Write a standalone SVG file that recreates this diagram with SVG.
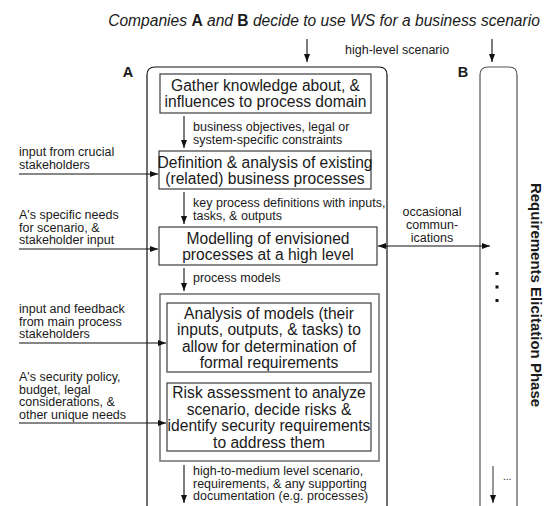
<svg xmlns="http://www.w3.org/2000/svg" width="548" height="506" viewBox="0 0 548 506">
<defs>
<marker id="ah" viewBox="0 0 8 6" refX="8" refY="3" markerWidth="8" markerHeight="6" markerUnits="userSpaceOnUse" orient="auto-start-reverse">
<path d="M0,0 L8,3 L0,6 Z" fill="#111"/>
</marker>
<style>
text{font-family:"Liberation Sans",Arial,Helvetica,sans-serif;fill:#1a1a1a}
.bx{font-size:15.6px;text-anchor:middle}
.lb{font-size:12.5px}
.box{fill:#fff;stroke:#3c3c3c;stroke-width:1.2}
.grp{fill:none;stroke:#777;stroke-width:1.6}
.cont{fill:none;stroke:#111;stroke-width:1.2}
.contb{fill:none;stroke:#555;stroke-width:1.2}
.c{fill:none;stroke:#111;stroke-width:1.1;marker-end:url(#ah)}
</style>
</defs>
<rect width="548" height="506" fill="#fff"/>

<text x="324" y="26" font-size="15.6" font-style="italic" text-anchor="middle">Companies <tspan font-weight="bold" font-style="normal">A</tspan> and <tspan font-weight="bold" font-style="normal">B</tspan> decide to use WS for a business scenario</text>
<text x="345" y="54" class="lb">high-level scenario</text>

<g id="containerA">
<path class="cont" d="M147,506 L147,75 Q147,67 155,67 L379,67 Q387,67 387,75 L387,506"/>
<text x="128" y="77" font-size="14.5" font-weight="bold" text-anchor="middle">A</text>
</g>
<g id="containerB">
<path class="contb" d="M480,506 L480,75 Q480,67 488,67 L509,67 Q517,67 517,75 L517,506"/>
<text x="463" y="77" font-size="14.5" font-weight="bold" text-anchor="middle">B</text>
<rect x="495.5" y="272" width="3" height="3" fill="#111"/>
<rect x="495.5" y="285.5" width="3" height="3" fill="#111"/>
<rect x="495.5" y="299" width="3" height="3" fill="#111"/>
<text x="503" y="480" font-size="10">...</text>
</g>
<text transform="translate(531,295) rotate(90)" font-size="15" font-weight="bold" text-anchor="middle">Requirements Elicitation Phase</text>

<g id="n1">
<rect class="box" x="160" y="74" width="211" height="39"/>
<text class="bx" x="265.5" y="90.5">Gather knowledge about, &amp;</text>
<text class="bx" x="265.5" y="107">influences to process domain</text>
</g>
<g id="n2">
<rect class="box" x="159" y="151" width="212" height="38"/>
<text class="bx" x="265" y="167.5">Definition &amp; analysis of existing</text>
<text class="bx" x="265" y="184">(related) business processes</text>
</g>
<g id="n3">
<rect class="box" x="159" y="227" width="218" height="38"/>
<text class="bx" x="268" y="243.5">Modelling of envisioned</text>
<text class="bx" x="268" y="260">processes at a high level</text>
</g>
<g id="group">
<rect class="grp" x="160" y="294" width="219" height="167"/>
</g>
<g id="n4">
<rect class="box" x="167" y="303" width="204" height="69"/>
<text class="bx" x="269" y="318.5">Analysis of models (their</text>
<text class="bx" x="269" y="335">inputs, outputs, &amp; tasks) to</text>
<text class="bx" x="269" y="351.5">allow for determination of</text>
<text class="bx" x="269" y="368">formal requirements</text>
</g>
<g id="n5">
<rect class="box" x="167" y="383" width="204" height="68"/>
<text class="bx" x="269" y="398">Risk assessment to analyze</text>
<text class="bx" x="269" y="414.5">scenario, decide risks &amp;</text>
<text class="bx" x="269" y="431">identify security requirements</text>
<text class="bx" x="269" y="447.5">to address them</text>
</g>

<g id="labels">
<text class="lb" x="193" y="131">business objectives, legal or</text>
<text class="lb" x="193" y="144">system-specific constraints</text>
<text class="lb" x="193" y="207">key process definitions with inputs,</text>
<text class="lb" x="193" y="220">tasks, &amp; outputs</text>
<text class="lb" x="193" y="282">process models</text>
<text class="lb" x="193" y="475">high-to-medium level scenario,</text>
<text class="lb" x="193" y="487.5">requirements, &amp; any supporting</text>
<text class="lb" x="193" y="500">documentation (e.g. processes)</text>
<text class="lb" x="19" y="156">input from crucial</text>
<text class="lb" x="19" y="168.5">stakeholders</text>
<text class="lb" x="19" y="219">A's specific needs</text>
<text class="lb" x="19" y="231.5">for scenario, &amp;</text>
<text class="lb" x="19" y="244">stakeholder input</text>
<text class="lb" x="19" y="313">input and feedback</text>
<text class="lb" x="19" y="325.5">from main process</text>
<text class="lb" x="19" y="338">stakeholders</text>
<text class="lb" x="19" y="381">A's security policy,</text>
<text class="lb" x="19" y="393.5">budget, legal</text>
<text class="lb" x="19" y="406">considerations, &amp;</text>
<text class="lb" x="19" y="418.5">other unique needs</text>
<text class="lb" x="432" y="216" text-anchor="middle">occasional</text>
<text class="lb" x="432" y="229" text-anchor="middle">commun-</text>
<text class="lb" x="432" y="242" text-anchor="middle">ications</text>
</g>

<g id="connectors">
<line class="c" x1="307" y1="39" x2="307" y2="62"/>
<line class="c" x1="492" y1="39" x2="492" y2="62"/>
<line class="c" x1="184" y1="116" x2="184" y2="148"/>
<line class="c" x1="184" y1="192" x2="184" y2="224"/>
<line class="c" x1="184" y1="268" x2="184" y2="291"/>
<line class="c" x1="184" y1="465" x2="184" y2="503"/>
<line class="c" x1="19" y1="174" x2="158" y2="174"/>
<line class="c" x1="19" y1="249" x2="158" y2="249"/>
<line class="c" x1="19" y1="343" x2="166" y2="343"/>
<line class="c" x1="19" y1="423" x2="166" y2="423"/>
<line class="c" x1="378" y1="246" x2="490" y2="246" style="marker-start:url(#ah)"/>
<line class="c" x1="493" y1="466" x2="493" y2="503" style="stroke:#444"/>
</g>
</svg>
